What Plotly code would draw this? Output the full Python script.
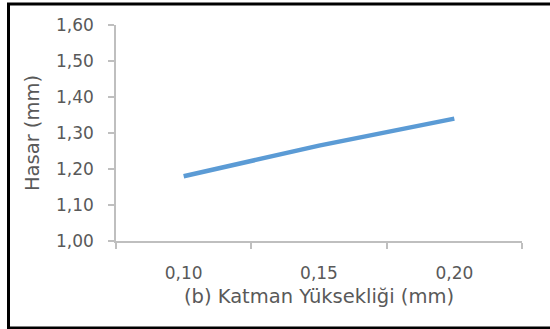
import plotly.graph_objects as go

categories = ["0,10", "0,15", "0,20"]
hasar = [1.18, 1.265, 1.34]
y_ticks = [1.0, 1.1, 1.2, 1.3, 1.4, 1.5, 1.6]
y_tick_labels = ["1,00", "1,10", "1,20", "1,30", "1,40", "1,50", "1,60"]

W, H = 550, 329
ml, mr, mt, mb = 116, 28, 25, 88
pw, ph = W - ml - mr, H - mt - mb

def px_x(x):
    return (x - ml) / pw

def px_y(y):
    return (H - mb - y) / ph

gray = "#595959"
axis_gray = "#BFBFBF"
font_family = "'DejaVu Sans', sans-serif"
fs = 17
tfs = 19.5

fig = go.Figure()
fig.add_trace(go.Scatter(
    x=categories, y=hasar, mode="lines",
    line=dict(color="#5B9BD5", width=4.5),
    showlegend=False,
))

fig.update_layout(
    width=W, height=H,
    margin=dict(l=ml, r=mr, t=mt, b=mb),
    paper_bgcolor="white", plot_bgcolor="white",
    font=dict(family=font_family, color=gray, size=fs),
    xaxis=dict(
        type="category",
        tickson="boundaries",
        ticks="outside", ticklen=6, tickcolor=axis_gray, tickwidth=1.5,
        showline=True, linecolor=axis_gray, linewidth=1.5,
        showgrid=False, zeroline=False,
        range=[-0.5, 2.5],
        tickfont=dict(size=fs, color=gray),
        ticklabelstandoff=16,
        title=dict(text="(b) Katman Yüksekliği (mm)", font=dict(size=tfs, color=gray), standoff=7),
    ),
    yaxis=dict(
        range=[1.0, 1.6],
        tickvals=y_ticks, ticktext=y_tick_labels,
        ticks="outside", ticklen=6, tickcolor=axis_gray, tickwidth=1.5,
        showline=True, linecolor=axis_gray, linewidth=1.5,
        showgrid=False, zeroline=False,
        tickfont=dict(size=fs, color=gray),
        ticklabelstandoff=11,
        title=dict(text="Hasar (mm)", font=dict(size=tfs, color=gray), standoff=11),
    ),
    shapes=[dict(
        type="rect", xref="paper", yref="paper",
        x0=px_x(8.5), x1=px_x(560), y0=px_y(4), y1=px_y(328),
        line=dict(color="black", width=3), fillcolor="rgba(0,0,0,0)",
        layer="above",
    )],
)

fig.write_html("out.html", config={"displayModeBar": False},
               post_script="document.body.style.margin='0px';")
